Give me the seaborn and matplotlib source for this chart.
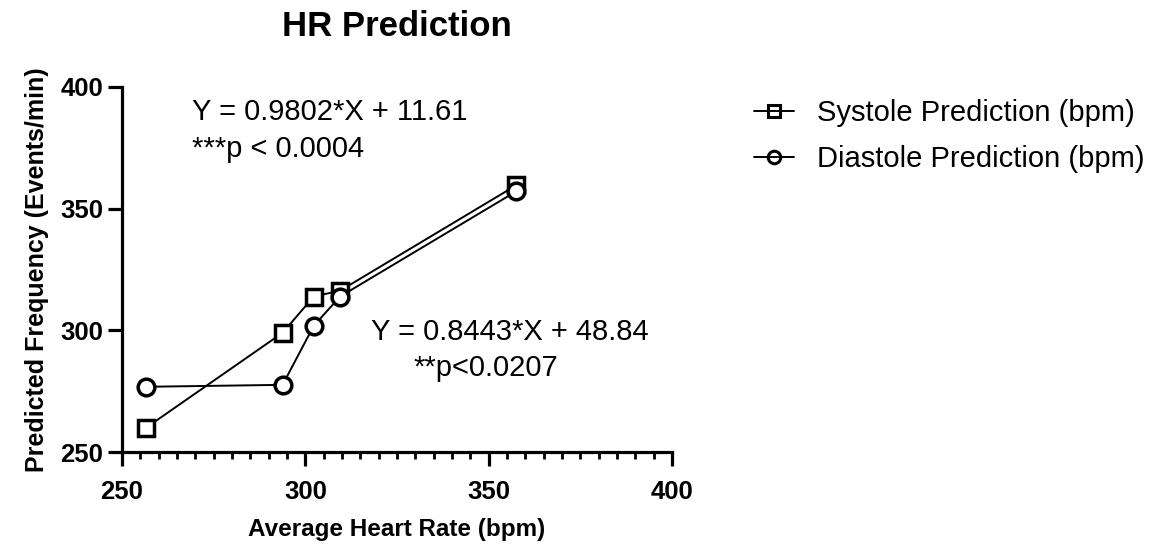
import matplotlib
matplotlib.use("Agg")
import matplotlib.pyplot as plt
from matplotlib.lines import Line2D
from matplotlib.ticker import MultipleLocator
import seaborn as sns
import pandas as pd

heart_rate = [256.5, 293.8, 302.3, 309.5, 357.5]
systole = [259.9, 299.0, 313.9, 316.3, 359.6]
diastole = [276.8, 277.6, 301.9, 313.9, 357.1]
series_names = ["Systole Prediction (bpm)", "Diastole Prediction (bpm)"]
x_ticks = [250, 300, 350, 400]
y_ticks = [250, 300, 350, 400]

sns.set_theme(style="ticks")
plt.rcParams['font.family'] = ['Liberation Sans', 'DejaVu Sans']
plt.rcParams.update({"text.color": "black", "axes.labelcolor": "black",
                     "xtick.color": "black", "ytick.color": "black",
                     "axes.edgecolor": "black"})

fig = plt.figure(figsize=(11.59, 5.5), dpi=100)
ax = fig.add_axes([122/1159, 1-452/550, (672-122)/1159, (452-87)/550])

df_s = pd.DataFrame({"x": heart_rate, "y": systole})
df_d = pd.DataFrame({"x": heart_rate, "y": diastole})

sns.lineplot(data=df_s, x="x", y="y", ax=ax, color="black", linewidth=1.4,
             marker="s", markersize=12, markerfacecolor="white",
             markeredgecolor="black", markeredgewidth=2.5, zorder=3)
sns.lineplot(data=df_d, x="x", y="y", ax=ax, color="black", linewidth=1.4,
             marker="o", markersize=12, markerfacecolor="white",
             markeredgecolor="black", markeredgewidth=2.5, zorder=4)

ax.set_xlim(250, 400)
ax.set_ylim(250, 400)
ax.set_xticks(x_ticks)
ax.set_yticks(y_ticks)
ax.xaxis.set_minor_locator(MultipleLocator(5))
for s in ["top", "right"]:
    ax.spines[s].set_visible(False)
for s in ["left", "bottom"]:
    ax.spines[s].set_linewidth(2.3)
    ax.spines[s].set_color("black")
ax.tick_params(axis="both", which="major", length=10, width=2.3, labelsize=18.5,
               colors="black")
ax.tick_params(axis="x", which="major", pad=10)
ax.tick_params(axis="y", which="major", pad=3.5)
ax.tick_params(axis="x", which="minor", length=5, width=2.0, colors="black")
for lab in ax.get_xticklabels() + ax.get_yticklabels():
    lab.set_fontweight("bold")
ax.set_xlabel("Average Heart Rate (bpm)", fontsize=17.5, fontweight="bold",
              labelpad=10, color="black")
ax.set_ylabel("Predicted Frequency (Events/min)", fontsize=18, fontweight="bold",
              labelpad=8, color="black")
fig.text(397/1159, 1-26/550, "HR Prediction", fontsize=25, fontweight="bold",
         ha="center", va="center", color="black")

ax.text(269.2, 389.7, "Y = 0.9802*X + 11.61", fontsize=21, ha="left", va="center")
ax.text(269.2, 374.5, "***p < 0.0004", fontsize=21, ha="left", va="center")
ax.text(317.9, 299.5, "Y = 0.8443*X + 48.84", fontsize=21, ha="left", va="center")
ax.text(329.4, 284.6, "**p<0.0207", fontsize=21, ha="left", va="center")

handles = [
    Line2D([0], [0], color="black", linewidth=1.4, marker="s", markersize=9,
           markerfacecolor="none", markeredgecolor="black", markeredgewidth=2.2),
    Line2D([0], [0], color="black", linewidth=1.4, marker="o", markersize=9,
           markerfacecolor="none", markeredgecolor="black", markeredgewidth=2.2),
]
fig.legend(handles, series_names, loc="upper left",
           bbox_to_anchor=(728/1159, 1-73/550), frameon=False, fontsize=21,
           handlelength=1.35, handletextpad=0.8, labelspacing=0.6)

fig.savefig("out.png", dpi=100)
